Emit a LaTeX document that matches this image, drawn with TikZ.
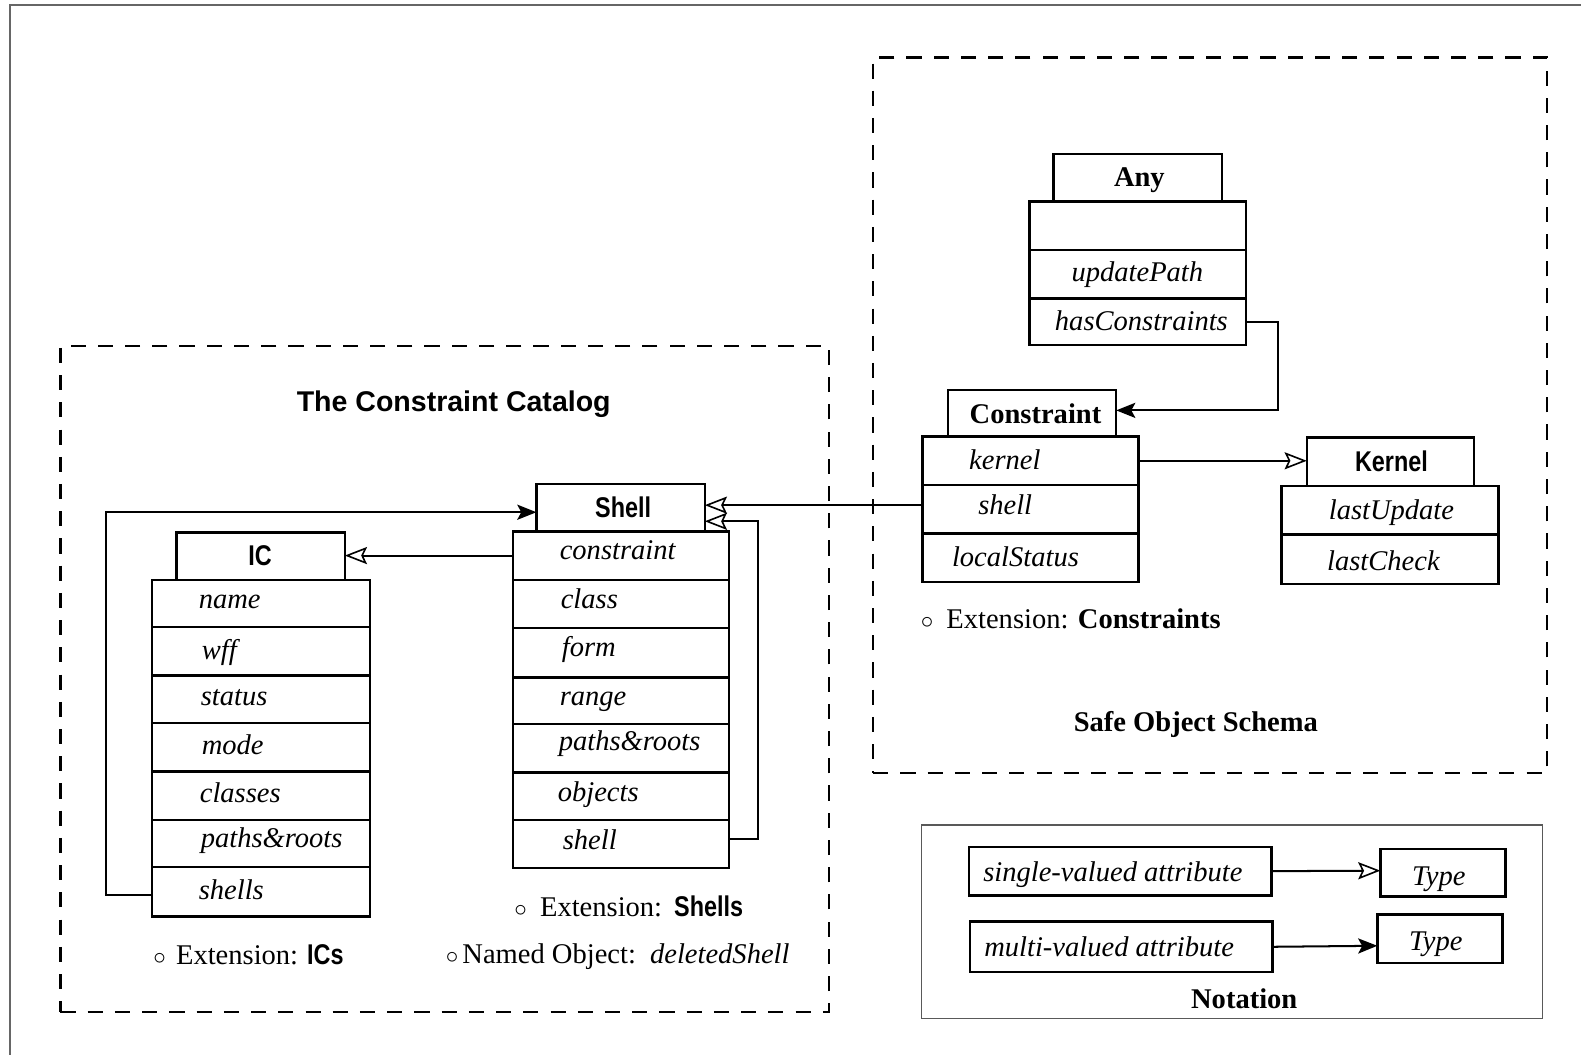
\documentclass[tikz,border=0pt]{standalone}
\usepackage{fontspec}
\setmainfont{Liberation Serif}
\newfontfamily\hsans[FakeStretch=0.82]{Liberation Sans}
\newfontfamily\wsans{Liberation Sans}
\usetikzlibrary{arrows.meta,calc}
\newcommand\fs{\fontsize{28.3}{34}\selectfont}
\newcommand\rbox[6][]{%
 \pgfmathsetmacro\bxW{#4-#2}\pgfmathsetmacro\bxH{#5-#3}%
 \pgfmathsetmacro\bxX{(#2+#4)/2}\pgfmathsetmacro\bxY{(#3+#5)/2}%
 \node[cls,#1,minimum width=\bxW pt,minimum height=\bxH pt] (#6) at (\bxX,\bxY) {};}
\begin{document}
\begin{tikzpicture}[x=1pt,y=-1pt,
 cls/.style={draw,line width=2.4pt,inner sep=0,outer sep=0},
 attr/.style={font=\fs\itshape,inner sep=0,anchor=base west,yshift=-3pt},
 attrc/.style={font=\fs\itshape,inner sep=0,anchor=base,yshift=-3pt},
 hdrs/.style={font=\fs\hsans\bfseries,inner sep=0,anchor=base},
 hdrr/.style={font=\fs\bfseries,inner sep=0,anchor=base},
 plain/.style={font=\fs,inner sep=0,anchor=base west},
 area/.style={line width=2.2pt,dash pattern=on 15pt off 12pt},
 thin/.style={draw=black!65,line width=1.5pt},
 conn/.style={line width=2pt},
 fil/.style={conn,-{Stealth[length=19pt,width=15pt,inset=4pt]}},
 opn/.style={conn,-{Stealth[open,length=22pt,width=17pt,inset=4pt,line width=1.6pt]}},
]
\useasboundingbox (0,0) rectangle (1568,1046);
% outer frame
\draw[black!60,line width=1.5pt] (10,1046) -- (10,5) -- (1568,5);

% grouping areas
\rbox[area]{60}{343}{822}{1004}{catalog}
\rbox[area]{866}{57}{1534}{767}{schema}
\node[font=\fs\wsans\bfseries,inner sep=0,anchor=base] (cattitle) at (450,408) {The Constraint Catalog};
\node[hdrr] (schtitle) at (1186,725) {Safe Object Schema};

% Any
\rbox{1045}{153}{1212}{200}{anyh}
\rbox{1021}{200}{1236}{248}{any0}
\rbox{1021}{248}{1236}{296}{anyup}
\rbox{1021}{296}{1236}{342}{anyhas}
\node[hdrr] (anyt) at (1130,185) {Any};
\node[attrc] (anyupt) at (1128,276) {updatePath};
\node[attrc] (anyhast) at (1132,325) {hasConstraints};

% Constraint
\rbox{940}{387}{1107}{433}{ch}
\rbox{915}{433}{1129}{481}{ckernel}
\rbox{915}{481}{1129}{529}{cshell}
\rbox{915}{529}{1129}{577}{cstatus}
\node[hdrr] (cht) at (1027,420) {Constraint};
\node[attr] (ckernelt) at (961,463) {kernel};
\node[attr] (cshellt) at (970,507) {shell};
\node[attr] (cstatust) at (944,559) {localStatus};
\node[plain] (cext) at (913,623) {$\circ$\hspace{13pt}Extension: \textbf{Constraints}};

% Kernel
\rbox{1296}{434}{1462}{482}{kh}
\rbox{1271}{482}{1486}{530}{kupd}
\rbox{1271}{530}{1486}{579}{kchk}
\node[hdrs] (kht) at (1380,468) {Kernel};
\node[attrc] (kupdt) at (1380,512) {lastUpdate};
\node[attrc] (kchkt) at (1372,563) {lastCheck};

% Shell
\rbox{532}{480}{699}{527}{shellh}
\rbox{509}{527}{723}{575}{sconst}
\rbox{509}{575}{723}{623}{sclass}
\rbox{509}{623}{723}{672}{sform}
\rbox{509}{672}{723}{718}{srange}
\rbox{509}{718}{723}{766}{spaths}
\rbox{509}{766}{723}{813}{sobj}
\rbox{509}{813}{723}{861}{sshell}
\node[hdrs] (shellht) at (618,513) {Shell};
\node[attr] (sconstt) at (555,552) {constraint};
\node[attr] (sclasst) at (556,600) {class};
\node[attr] (sformt) at (557,648) {form};
\node[attr] (sranget) at (555,697) {range};
\node[attr] (spathst) at (554,741) {paths\&roots};
\node[attr] (sobjt) at (553,792) {objects};
\node[attr] (sshellt) at (558,840) {shell};
\node[plain] (sext) at (510,909) {$\circ$\hspace{13pt}Extension:\hspace{12pt}{\hsans\bfseries Shells}};
\node[plain] (snamed) at (442,956) {$\circ$\hspace{4pt}Named Object:\hspace{14pt}\textit{deletedShell}};

% IC
\rbox{175}{528}{342}{575}{ich}
\rbox{151}{575}{367}{622}{icname}
\rbox{151}{622}{367}{670}{icwff}
\rbox{151}{670}{367}{717}{icstatus}
\rbox{151}{717}{367}{765}{icmode}
\rbox{151}{765}{367}{813}{icclasses}
\rbox{151}{813}{367}{860}{icpaths}
\rbox{151}{860}{367}{909}{icshells}
\node[hdrs] (icht) at (258,561) {IC};
\node[attr] (icnamet) at (197,600) {name};
\node[attr] (icwfft) at (200,651) {wff};
\node[attr] (icstatust) at (199,697) {status};
\node[attr] (icmodet) at (200,745) {mode};
\node[attr] (icclassest) at (198,793) {classes};
\node[attr] (icpathst) at (199,838) {paths\&roots};
\node[attr] (icshellst) at (197,889) {shells};
\node[plain] (icext) at (152,957) {$\circ$\hspace{10pt}Extension:\hspace{9pt}{\hsans\bfseries ICs}};

% connectors
\draw[fil] (anyhas.east) -- ++(31,0) |- ([yshift=3pt]ch.east);
\draw[opn] (ckernel.east) -- (ckernel.east -| kh.west);
\draw[opn] ([yshift=4pt]cshell.west) -- ([yshift=2.5pt]shellh.east);
\draw[opn] ([yshift=5pt]sshell.east) -- ++(29,0) |- ([yshift=-13.5pt]shellh.east);
\draw[fil] ([yshift=-3.5pt]icshells.west) -- ++(-46,0) |- ([yshift=-4.5pt]shellh.west);
\draw[opn] (sconst.west) -- (sconst.west -| ich.east);

% Notation
\rbox[thin]{914}{818}{1530}{1010}{notation}
\rbox{961}{840}{1261}{888}{sv}
\rbox{962}{914}{1262}{964}{mv}
\rbox{1369}{842}{1493}{889}{ta}
\rbox{1366}{907}{1490}{955}{tb}
\node[attr] (svt) at (975,871) {single-valued attribute};
\node[attr] (mvt) at (976,946) {multi-valued attribute};
\node[attrc] (tat) at (1427,875) {Type};
\node[attrc] (tbt) at (1424,940) {Type};
\node[hdrr] (nott) at (1234,1000) {Notation};
\draw[opn] (sv.east) -- ([yshift=2pt]ta.west);
\draw[fil] (mv.east) -- ([yshift=-7pt]tb.west);
\end{tikzpicture}
\end{document}
